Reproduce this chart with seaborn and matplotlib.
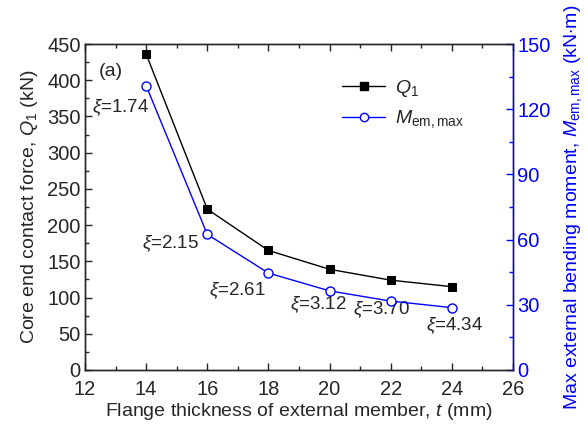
import matplotlib
matplotlib.use("Agg")
import matplotlib.pyplot as plt
from matplotlib.ticker import MultipleLocator
from matplotlib.lines import Line2D
import seaborn as sns
import pandas as pd

t = [14, 16, 18, 20, 22, 24]
q1 = [436, 222, 165, 139, 124, 115]
m_em = [130.8, 62.4, 44.6, 36.4, 31.7, 28.7]
xi_labels = ["1.74", "2.15", "2.61", "3.12", "3.70", "4.34"]
xi_pos_x = [13.15, 14.8, 17.0, 19.65, 21.7, 24.1]
xi_pos_y = [362, 175, 110, 90, 83, 61]

sns.set_style("ticks")
plt.rcParams['font.family'] = ['Liberation Sans', 'DejaVu Sans']
plt.rcParams['mathtext.fontset'] = 'custom'
plt.rcParams['mathtext.rm'] = 'Liberation Sans'
plt.rcParams['mathtext.it'] = 'Liberation Sans:italic'
plt.rcParams['mathtext.bf'] = 'Liberation Sans:bold'

df = pd.DataFrame({"t": t, "Q1": q1, "M": m_em})

fig = plt.figure(figsize=(5.88, 4.34), dpi=100)
ax = fig.add_axes([0.1446, 0.1475, 0.7278, 0.7511])
ax2 = ax.twinx()

sns.lineplot(data=df, x="t", y="Q1", ax=ax, color="black", lw=1,
             marker="s", markersize=6, markeredgecolor="black", markerfacecolor="black")
sns.lineplot(data=df, x="t", y="M", ax=ax2, color="blue", lw=1,
             marker="o", markersize=6.5, markeredgecolor="blue", markerfacecolor="white",
             markeredgewidth=1)

tfs = 14.5
lfs = 14
ax.set_xlim(12, 26)
ax.set_ylim(0, 450)
ax2.set_ylim(0, 150)
ax.xaxis.set_major_locator(MultipleLocator(2))
ax.xaxis.set_minor_locator(MultipleLocator(1))
ax.yaxis.set_major_locator(MultipleLocator(50))
ax.yaxis.set_minor_locator(MultipleLocator(25))
ax2.yaxis.set_major_locator(MultipleLocator(30))
ax2.yaxis.set_minor_locator(MultipleLocator(15))

ax.tick_params(axis='both', which='both', direction='in', top=True, labelsize=tfs, width=1)
ax.tick_params(axis='y', which='major', length=5, pad=3)
ax.tick_params(axis='x', which='major', length=5, pad=7)
ax.tick_params(axis='both', which='minor', length=3)
ax2.tick_params(axis='y', which='both', direction='in', colors='blue', labelsize=tfs, width=1)
ax2.tick_params(axis='y', which='major', length=5, pad=3)
ax2.tick_params(axis='y', which='minor', length=3)
for s in ax.spines.values():
    s.set_linewidth(1)
for s in ax2.spines.values():
    s.set_linewidth(1)
ax2.spines['right'].set_color('blue')

ax.set_xlabel(r"Flange thickness of external member, $t$ (mm)", fontsize=lfs, labelpad=2)
ax.set_ylabel(r"Core end contact force, $Q_{\rm 1}$ (kN)", fontsize=lfs, labelpad=5)
ax2.set_ylabel(r"Max external bending moment, $M_{\rm em,max}$ (kN$\cdot$m)", fontsize=14,
               color='blue', labelpad=8)

for lab, x, y in zip(xi_labels, xi_pos_x, xi_pos_y):
    ax.text(x, y, r"$\xi$=" + lab, fontsize=13.5, ha='center', va='center')

ax.text(12.45, 412, "(a)", fontsize=14, ha='left', va='center')

handles = [Line2D([], [], color='black', lw=1, marker='s', markersize=6),
           Line2D([], [], color='blue', lw=1, marker='o', markersize=6,
                  markerfacecolor='white', markeredgecolor='blue')]
ax.legend(handles, [r"$Q_{\rm 1}$", r"$M_{\rm em,max}$"], loc='upper left',
          bbox_to_anchor=(0.56, 0.95), frameon=False, fontsize=14,
          handlelength=2.2, labelspacing=0.5, handletextpad=0.5)

fig.savefig("out.png", dpi=100)
